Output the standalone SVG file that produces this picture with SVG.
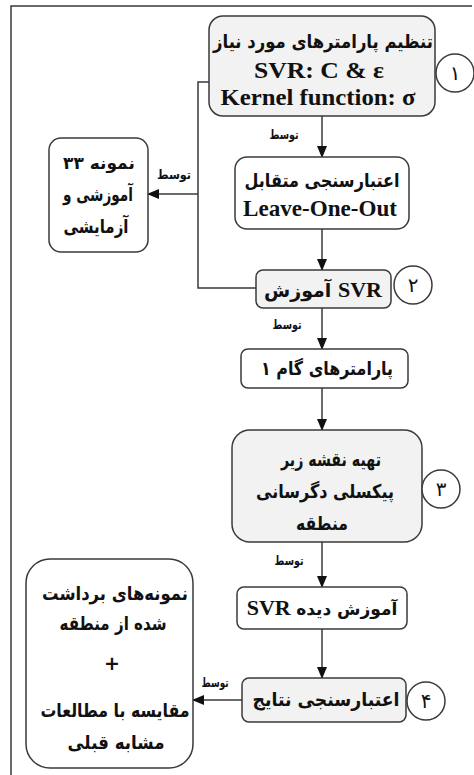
<svg xmlns="http://www.w3.org/2000/svg" width="474" height="775" viewBox="0 0 474 775">
<style>
.box{stroke:#3a3a3a;stroke-width:1.5;}
.g{fill:#f2f2f2;}
.w{fill:#ffffff;}
.c{fill:#ffffff;stroke:#3a3a3a;stroke-width:1.5;}
.ln{fill:none;stroke:#3a3a3a;stroke-width:1.5;}
.fa{font-family:"DejaVu Sans",sans-serif;font-weight:bold;font-size:19px;fill:#111;text-anchor:middle;}
.en{font-family:"Liberation Serif",serif;font-weight:bold;font-size:23px;fill:#111;text-anchor:middle;}
.lbl{font-family:"DejaVu Sans",sans-serif;font-weight:bold;font-size:13px;fill:#111;text-anchor:middle;}
.num{font-family:"DejaVu Sans",sans-serif;font-size:20px;fill:#111;text-anchor:middle;}
.ltr{direction:ltr;unicode-bidi:embed;}
</style>
<defs>
<marker id="ah" markerWidth="12" markerHeight="12" refX="11" refY="5" orient="auto" markerUnits="userSpaceOnUse" viewBox="0 0 12 10">
<path d="M0,0 L12,5 L0,10 Z" fill="#111"/>
</marker>
</defs>
<rect x="0" y="0" width="474" height="775" fill="#ffffff"/>
<g id="frame">
<path class="ln" d="M11,775 L11,6 L472,6"/>
</g>
<g id="connectors">
<path class="ln" d="M322,116 L322,157" marker-end="url(#ah)"/>
<path class="ln" d="M322,229 L322,270" marker-end="url(#ah)"/>
<path class="ln" d="M209,82 L198,82 L198,288 L256,288"/>
<path class="ln" d="M198,194 L148,194" marker-end="url(#ah)"/>
<path class="ln" d="M322,308 L322,349" marker-end="url(#ah)"/>
<path class="ln" d="M322,388 L322,430" marker-end="url(#ah)"/>
<path class="ln" d="M322,542 L322,587" marker-end="url(#ah)"/>
<path class="ln" d="M322,629 L322,678" marker-end="url(#ah)"/>
<path class="ln" d="M242,700 L193,700" marker-end="url(#ah)"/>
<text class="lbl" x="284" y="139" textLength="29" lengthAdjust="spacingAndGlyphs">توسط</text>
<text class="lbl" x="174" y="179" textLength="34" lengthAdjust="spacingAndGlyphs">توسط</text>
<text class="lbl" x="287" y="329" textLength="29" lengthAdjust="spacingAndGlyphs">توسط</text>
<text class="lbl" x="289" y="565" textLength="29" lengthAdjust="spacingAndGlyphs">توسط</text>
<text class="lbl" x="215" y="687" textLength="27" lengthAdjust="spacingAndGlyphs">توسط</text>
</g>
<g id="n1">
<rect class="box g" x="209" y="16" width="226" height="100" rx="14"/>
<text class="fa" x="323" y="48" textLength="220" lengthAdjust="spacingAndGlyphs">تنظیم پارامترهای مورد نیاز</text>
<text class="en" x="319" y="78" textLength="130" lengthAdjust="spacingAndGlyphs">SVR: C &amp; ε</text>
<text class="en" x="318" y="105" textLength="195" lengthAdjust="spacingAndGlyphs">Kernel function: σ</text>
</g>
<g id="s1"><circle class="c" cx="455" cy="73" r="19"/><text class="num" x="455" y="80">۱</text></g>
<g id="n2">
<rect class="box w" x="235" y="157" width="174" height="72" rx="12"/>
<text class="fa" x="322" y="187" textLength="155" lengthAdjust="spacingAndGlyphs">اعتبارسنجی متقابل</text>
<text class="en" x="320" y="216" textLength="154" lengthAdjust="spacingAndGlyphs">Leave-One-Out</text>
</g>
<g id="left1">
<rect class="box w" x="49" y="138" width="99" height="114" rx="12"/>
<text class="fa ltr" x="99" y="169" style="font-size:17px">۳۳ نمونه</text>
<text class="fa" x="98" y="201" textLength="70" lengthAdjust="spacingAndGlyphs">آموزشی و</text>
<text class="fa" x="96" y="233" textLength="65" lengthAdjust="spacingAndGlyphs">آزمایشی</text>
</g>
<g id="n3">
<rect class="box g" x="256" y="270" width="135" height="38" rx="7"/>
<text class="fa ltr" x="323" y="297"><tspan>آموزش </tspan><tspan class="en" style="font-size:22px">SVR</tspan></text>
</g>
<g id="s2"><circle class="c" cx="413" cy="285" r="19"/><text class="num" x="413" y="292">۲</text></g>
<g id="n4">
<rect class="box w" x="241" y="349" width="167" height="39" rx="7"/>
<text class="fa" x="327" y="375" textLength="132" lengthAdjust="spacingAndGlyphs">پارامترهای گام ۱</text>
</g>
<g id="n5">
<rect class="box g" x="232" y="430" width="190" height="112" rx="18"/>
<text class="fa" x="331" y="466" textLength="100" lengthAdjust="spacingAndGlyphs">تهیه نقشه زیر</text>
<text class="fa" x="325" y="498" textLength="138" lengthAdjust="spacingAndGlyphs">پیکسلی دگرسانی</text>
<text class="fa" x="322" y="530" textLength="52" lengthAdjust="spacingAndGlyphs">منطقه</text>
</g>
<g id="s3"><circle class="c" cx="441" cy="489" r="19"/><text class="num" x="441" y="496">۳</text></g>
<g id="n6">
<rect class="box w" x="237" y="587" width="170" height="42" rx="7"/>
<text class="fa ltr" x="322" y="615" style="font-size:17px"><tspan class="en" style="font-size:22px">SVR </tspan><tspan>آموزش دیده</tspan></text>
</g>
<g id="n7">
<rect class="box g" x="242" y="678" width="164" height="44" rx="7"/>
<text class="fa" x="326" y="706" textLength="147" lengthAdjust="spacingAndGlyphs">اعتبارسنجی نتایج</text>
</g>
<g id="s4"><circle class="c" cx="426" cy="701" r="19"/><text class="num" x="426" y="708">۴</text></g>
<g id="left2">
<rect class="box w" x="26" y="559" width="167" height="209" rx="24"/>
<text class="fa" x="115" y="600" textLength="146" lengthAdjust="spacingAndGlyphs">نمونه‌های برداشت</text>
<text class="fa" x="113" y="630" textLength="107" lengthAdjust="spacingAndGlyphs">شده از منطقه</text>
<text class="fa" x="112" y="670">+</text>
<text class="fa" x="115" y="717" textLength="149" lengthAdjust="spacingAndGlyphs">مقایسه با مطالعات</text>
<text class="fa" x="116" y="749" textLength="97" lengthAdjust="spacingAndGlyphs">مشابه قبلی</text>
</g>
</svg>
